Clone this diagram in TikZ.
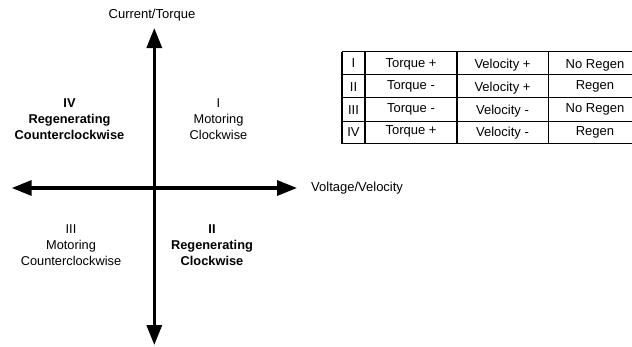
\documentclass[tikz,border=0pt]{standalone}
\usepackage{fontspec}
\setmainfont{Liberation Sans}
\usetikzlibrary{arrows.meta}
\tikzset{
  axis/.style={line width=3.3pt, {Triangle[length=20pt,width=15pt]}-{Triangle[length=20pt,width=15pt]}},
  quad/.style={align=center, font=\fontsize{12.8}{16}\selectfont, inner sep=0pt},
  qbold/.style={quad, font=\fontsize{12.8}{16}\selectfont\bfseries},
  axlabel/.style={font=\fontsize{13}{15}\selectfont, inner sep=0pt},
  cell/.style={font=\fontsize{13}{15}\selectfont, inner sep=0pt, text height=9.3pt, text depth=0pt},
  hrule/.style={line width=1pt},
  vrule/.style={line width=1.6pt}
}
\begin{document}
\begin{tikzpicture}[x=1pt,y=-1pt]
\useasboundingbox (0,0) rectangle (632,346);
\clip (0,0) rectangle (632,346);
% axes
\coordinate (top) at (154.3,28);
\coordinate (bottom) at (154.3,345);
\coordinate (left) at (11.7,188);
\coordinate (right) at (297,188);
\draw[axis] (bottom) -- (top);
\draw[axis] (left) -- (right);
\node[axlabel] (ylab) at (152,15) {Current/Torque};
\node[axlabel, anchor=west] (xlab) at (311,188) {Voltage/Velocity};
% quadrants
\node[qbold] (q4) at (69.5,119) {IV\\Regenerating\\Counterclockwise};
\node[quad] (q1) at (218.5,119) {I\\Motoring\\Clockwise};
\node[quad] (q3) at (71,245.5) {III\\Motoring\\Counterclockwise};
\node[qbold] (q2) at (212,245.5) {II\\Regenerating\\Clockwise};
% table
\foreach \y in {51.7,74.3,97.7,121,143.7} \draw[hrule] (342,\y) -- (641,\y);
\foreach \x in {342,365,456.7,548.3,641} \draw[vrule] (\x,51.7) -- (\x,143.7);
\node[cell] (r1c1) at (353.5,63) {I};
\node[cell] (r1c2) at (411,63) {Torque +};
\node[cell] (r1c3) at (502.5,63.5) {Velocity +};
\node[cell] (r1c4) at (595,64) {No Regen};
\node[cell] (r2c1) at (353.5,86.5) {II};
\node[cell] (r2c2) at (411,85) {Torque -};
\node[cell] (r2c3) at (502.5,87) {Velocity +};
\node[cell] (r2c4) at (595,84.5) {Regen};
\node[cell] (r3c1) at (353.5,109.5) {III};
\node[cell] (r3c2) at (411,107.5) {Torque -};
\node[cell] (r3c3) at (502.5,110) {Velocity -};
\node[cell] (r3c4) at (595,108) {No Regen};
\node[cell] (r4c1) at (353.5,131.5) {IV};
\node[cell] (r4c2) at (411,129.5) {Torque +};
\node[cell] (r4c3) at (502.5,132) {Velocity -};
\node[cell] (r4c4) at (595,131) {Regen};
\end{tikzpicture}
\end{document}
